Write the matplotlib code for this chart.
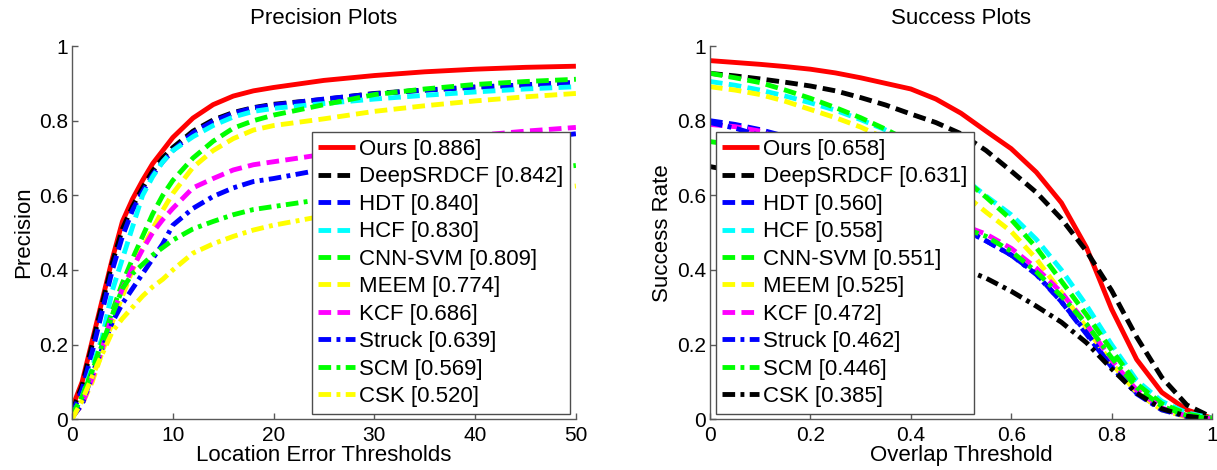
import matplotlib
matplotlib.use("Agg")
import matplotlib.pyplot as plt

plt.rcParams["font.family"] = ["Liberation Sans", "DejaVu Sans"]

# Precision plot data (location error threshold -> precision)
prec_x = [0, 1, 2, 3, 4, 5, 6, 7, 8, 9, 10, 12, 14, 16, 18, 20, 25, 30, 35, 40, 45, 50]
prec_ours = [0.03, 0.10, 0.21, 0.32, 0.43, 0.53, 0.59, 0.64, 0.685, 0.72, 0.755, 0.807, 0.843, 0.866, 0.88, 0.889, 0.908, 0.921, 0.931, 0.938, 0.943, 0.946]
prec_deepsrdcf = [0.02, 0.09, 0.20, 0.31, 0.42, 0.51, 0.57, 0.62, 0.665, 0.70, 0.728, 0.772, 0.802, 0.822, 0.835, 0.844, 0.857, 0.873, 0.882, 0.89, 0.896, 0.902]
prec_hdt = [0.015, 0.08, 0.18, 0.29, 0.40, 0.49, 0.56, 0.61, 0.655, 0.69, 0.72, 0.767, 0.798, 0.82, 0.834, 0.842, 0.858, 0.872, 0.882, 0.89, 0.896, 0.902]
prec_hcf = [0.01, 0.06, 0.14, 0.22, 0.345, 0.43, 0.515, 0.60, 0.65, 0.69, 0.72, 0.757, 0.787, 0.81, 0.825, 0.833, 0.846, 0.858, 0.868, 0.877, 0.885, 0.891]
prec_cnnsvm = [0.01, 0.06, 0.13, 0.21, 0.29, 0.365, 0.43, 0.49, 0.55, 0.60, 0.64, 0.70, 0.745, 0.78, 0.80, 0.815, 0.843, 0.87, 0.885, 0.897, 0.905, 0.911]
prec_meem = [0.005, 0.04, 0.10, 0.18, 0.26, 0.33, 0.40, 0.46, 0.51, 0.56, 0.605, 0.675, 0.72, 0.752, 0.775, 0.787, 0.805, 0.825, 0.84, 0.853, 0.864, 0.873]
prec_kcf = [0.005, 0.04, 0.11, 0.19, 0.28, 0.35, 0.405, 0.455, 0.50, 0.535, 0.565, 0.62, 0.645, 0.668, 0.682, 0.69, 0.71, 0.73, 0.745, 0.76, 0.772, 0.782]
prec_struck = [0.005, 0.04, 0.12, 0.19, 0.26, 0.31, 0.35, 0.39, 0.43, 0.47, 0.52, 0.565, 0.597, 0.62, 0.637, 0.645, 0.67, 0.69, 0.71, 0.73, 0.75, 0.765]
prec_scm = [0.01, 0.06, 0.13, 0.20, 0.28, 0.35, 0.39, 0.415, 0.44, 0.46, 0.48, 0.51, 0.53, 0.548, 0.562, 0.57, 0.59, 0.61, 0.63, 0.65, 0.665, 0.68]
prec_csk = [0.0, 0.05, 0.115, 0.175, 0.235, 0.27, 0.30, 0.33, 0.355, 0.375, 0.40, 0.445, 0.47, 0.49, 0.507, 0.52, 0.545, 0.565, 0.585, 0.60, 0.612, 0.625]

# Success plot data (overlap threshold -> success rate)
succ_x = [0, 0.05, 0.1, 0.15, 0.2, 0.25, 0.3, 0.35, 0.4, 0.45, 0.5, 0.55, 0.6, 0.65, 0.7, 0.75, 0.8, 0.85, 0.9, 0.95, 1.0]
succ_ours = [0.961, 0.956, 0.951, 0.945, 0.938, 0.928, 0.915, 0.90, 0.885, 0.858, 0.82, 0.772, 0.725, 0.662, 0.58, 0.46, 0.295, 0.16, 0.072, 0.025, 0.003]
succ_deepsrdcf = [0.927, 0.92, 0.912, 0.903, 0.893, 0.88, 0.862, 0.842, 0.818, 0.795, 0.765, 0.72, 0.665, 0.608, 0.537, 0.45, 0.345, 0.22, 0.112, 0.038, 0.005]
succ_hdt = [0.80, 0.79, 0.776, 0.758, 0.737, 0.712, 0.683, 0.65, 0.612, 0.568, 0.515, 0.478, 0.44, 0.39, 0.315, 0.228, 0.14, 0.07, 0.028, 0.008, 0.001]
succ_hcf = [0.905, 0.895, 0.882, 0.866, 0.848, 0.828, 0.803, 0.775, 0.742, 0.702, 0.652, 0.598, 0.548, 0.482, 0.40, 0.305, 0.20, 0.104, 0.048, 0.017, 0.003]
succ_cnnsvm = [0.927, 0.915, 0.902, 0.882, 0.86, 0.835, 0.808, 0.777, 0.742, 0.70, 0.65, 0.595, 0.535, 0.46, 0.37, 0.28, 0.185, 0.095, 0.042, 0.014, 0.002]
succ_meem = [0.891, 0.882, 0.87, 0.852, 0.83, 0.808, 0.783, 0.752, 0.715, 0.668, 0.61, 0.555, 0.503, 0.43, 0.34, 0.245, 0.15, 0.072, 0.025, 0.006, 0.001]
succ_kcf = [0.79, 0.784, 0.772, 0.745, 0.715, 0.68, 0.64, 0.60, 0.565, 0.535, 0.522, 0.496, 0.458, 0.405, 0.34, 0.255, 0.158, 0.078, 0.03, 0.008, 0.001]
succ_struck = [0.795, 0.78, 0.76, 0.735, 0.705, 0.67, 0.635, 0.60, 0.57, 0.54, 0.512, 0.478, 0.44, 0.388, 0.315, 0.232, 0.14, 0.068, 0.025, 0.007, 0.001]
succ_scm = [0.744, 0.735, 0.72, 0.70, 0.68, 0.655, 0.63, 0.60, 0.57, 0.54, 0.515, 0.49, 0.45, 0.395, 0.33, 0.255, 0.165, 0.085, 0.035, 0.01, 0.001]
succ_csk = [0.677, 0.665, 0.645, 0.62, 0.595, 0.565, 0.535, 0.505, 0.47, 0.435, 0.405, 0.378, 0.343, 0.303, 0.26, 0.205, 0.135, 0.07, 0.028, 0.008, 0.001]

trackers = ["Ours", "DeepSRDCF", "HDT", "HCF", "CNN-SVM", "MEEM", "KCF", "Struck", "SCM", "CSK"]
prec_scores = ["0.886", "0.842", "0.840", "0.830", "0.809", "0.774", "0.686", "0.639", "0.569", "0.520"]
succ_scores = ["0.658", "0.631", "0.560", "0.558", "0.551", "0.525", "0.472", "0.462", "0.446", "0.385"]

prec_colors = ["#ff0000", "#000000", "#0000ff", "#00ffff", "#00ff00", "#ffff00", "#ff00ff", "#0000ff", "#00ff00", "#ffff00"]
succ_colors = ["#ff0000", "#000000", "#0000ff", "#00ffff", "#00ff00", "#ffff00", "#ff00ff", "#0000ff", "#00ff00", "#000000"]
styles = ["solid", "dash", "dash", "dash", "dash", "dash", "dash", "dashdot", "dashdot", "dashdot"]

prec_series = [prec_ours, prec_deepsrdcf, prec_hdt, prec_hcf, prec_cnnsvm, prec_meem, prec_kcf, prec_struck, prec_scm, prec_csk]
succ_series = [succ_ours, succ_deepsrdcf, succ_hdt, succ_hcf, succ_cnnsvm, succ_meem, succ_kcf, succ_struck, succ_scm, succ_csk]

FS = 16
LW = 3.5
dash_map = {"dash": (2.6, 1.3), "dashdot": (2.6, 1.1, 0.8, 1.1)}


def draw(ax, x, series, colors, scores, title, xlabel, ylabel, xticks, xticklabels, loc):
    for name, ys, c, st, sc in zip(trackers, series, colors, styles, scores):
        label = f"{name} [{sc}]"
        if st == "solid":
            ax.plot(x, ys, color=c, lw=LW, label=label, solid_capstyle="butt")
        else:
            ax.plot(x, ys, color=c, lw=LW, label=label, dashes=dash_map[st], dash_capstyle="butt")
    ax.set_xlim(x[0], x[-1])
    ax.set_ylim(0, 1)
    ax.set_xticks(xticks)
    ax.set_xticklabels(xticklabels)
    ax.set_yticks([0, 0.2, 0.4, 0.6, 0.8, 1])
    ax.set_yticklabels(["0", "0.2", "0.4", "0.6", "0.8", "1"])
    ax.spines["top"].set_visible(False)
    ax.spines["right"].set_visible(False)
    for s in ["left", "bottom"]:
        ax.spines[s].set_color("0.35")
        ax.spines[s].set_linewidth(1.0)
    ax.tick_params(direction="in", length=4, width=1, color="0.35", labelsize=15)
    ax.tick_params(axis="y", pad=3)
    ax.tick_params(axis="x", pad=5)
    ax.set_title(title, fontsize=FS, pad=16)
    ax.set_xlabel(xlabel, fontsize=FS, labelpad=0)
    ax.set_ylabel(ylabel, fontsize=FS, labelpad=3)
    leg = ax.legend(loc=loc, fontsize=FS, handlelength=1.65, handletextpad=0.2,
                    borderpad=0.3, labelspacing=0.29, borderaxespad=0.25,
                    fancybox=False, framealpha=1, edgecolor="0.3")
    leg.get_frame().set_linewidth(1.0)


fig = plt.figure(figsize=(12.17, 4.70), dpi=100)
ax1 = fig.add_axes([0.0592, 0.108, 0.414, 0.794])
ax2 = fig.add_axes([0.5834, 0.108, 0.4125, 0.794])

draw(ax1, prec_x, prec_series, prec_colors, prec_scores, "Precision Plots",
     "Location Error Thresholds", "Precision", [0, 10, 20, 30, 40, 50],
     ["0", "10", "20", "30", "40", "50"], "lower right")
draw(ax2, succ_x, succ_series, succ_colors, succ_scores, "Success Plots",
     "Overlap Threshold", "Success Rate", [0, 0.2, 0.4, 0.6, 0.8, 1],
     ["0", "0.2", "0.4", "0.6", "0.8", "1"], "lower left")

fig.savefig("out.png", dpi=100)
